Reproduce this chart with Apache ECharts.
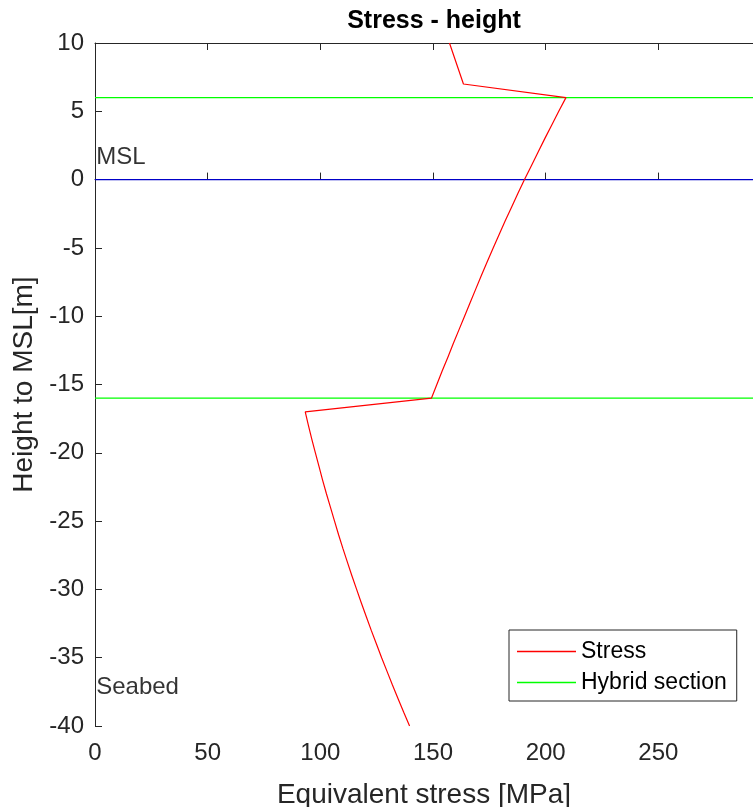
<!DOCTYPE html>
<html>
<head>
<meta charset="utf-8">
<script src="https://cdn.jsdelivr.net/npm/echarts@6/dist/echarts.min.js"></script>
<style>html,body{margin:0;padding:0;background:#fff;overflow:hidden;}#chart{width:753px;height:807px;}</style>
</head>
<body>
<div id="chart"></div>
<script>
// Stress profile: heights [m] and equivalent stress [MPa]
var stressHeights = [10, 7, 6, 5, 4, 3, 2, 1, 0, -1, -2, -3, -4, -5, -6, -7, -8, -9, -10, -11, -12, -13, -14, -15, -16,
  -17, -18, -19, -20, -21, -22, -23, -24, -25, -26, -27, -28, -29, -30, -31, -32, -33, -34, -35, -36, -37, -38, -39, -40];
var stressValues = [157.3, 163.5, 209.0, 205.8, 202.7, 199.6, 196.6, 193.6, 190.6, 187.7, 184.9, 182.1, 179.4, 176.7, 174.1, 171.5, 169.0, 166.5, 164.0, 161.5, 159.0, 156.6, 154.1, 151.7, 149.3,
  93.3, 94.7, 96.2, 97.8, 99.4, 101.0, 102.7, 104.5, 106.3, 108.1, 110.0, 112.0, 114.0, 116.1, 118.2, 120.4, 122.6, 124.9, 127.2, 129.6, 132.0, 134.5, 137.0, 139.6];
// Hybrid section boundaries [m]
var hybridLevels = [6, -16];
// Mean sea level [m]
var mslLevel = 0;
// Axis ranges and ticks
var xMin = 0, xMax = 292, xStep = 50;
var yMin = -40, yMax = 10, yStep = 5;
// Annotations: [x, y, text]
var annotations = [[0.3, 1.65, 'MSL'], [0.3, -37.2, 'Seabed']];

var stressData = stressHeights.map(function (h, i) { return [stressValues[i], h]; });
var FONT = '"Liberation Sans", Arial, Helvetica, sans-serif';
var AX = '#262626';

var series = [
  { name: 'Stress', type: 'line', data: stressData, symbol: 'none',
    lineStyle: { color: '#ff0000', width: 1.2 }, itemStyle: { color: '#ff0000' }, z: 5 }
];
hybridLevels.forEach(function (lv) {
  series.push({ name: 'Hybrid section', type: 'line', data: [[xMin, lv], [xMax, lv]], symbol: 'none',
    lineStyle: { color: '#00ff00', width: 1.3 }, itemStyle: { color: '#00ff00' }, z: 3 });
});
series.push({ name: 'MSL', type: 'line', data: [[xMin, mslLevel], [xMax, mslLevel]], symbol: 'none',
  lineStyle: { color: '#0000c8', width: 1.2 }, itemStyle: { color: '#0000c8' }, z: 3 });
series.push({ name: 'notes', type: 'scatter', data: annotations, symbolSize: 1,
  itemStyle: { color: 'rgba(0,0,0,0)' },
  label: { show: true, position: 'right', distance: 0, fontFamily: FONT, fontSize: 24, color: '#000000',
    formatter: function (p) { return p.data[2]; } },
  emphasis: { disabled: true }, z: 6 });

var chart = echarts.init(document.getElementById('chart'), null, { renderer: 'canvas', width: 753, height: 807 });
chart.setOption({
  backgroundColor: '#fff', animation: false,
  title: { text: 'Stress - height', left: 429, top: 4, textAlign: 'center',
    textStyle: { fontFamily: FONT, fontSize: 25, fontWeight: 'bold', color: '#000' } },
  legend: { data: ['Stress', 'Hybrid section'], orient: 'vertical', left: 509, top: 630,
    backgroundColor: '#fff', borderColor: AX, borderWidth: 1,
    padding: [10, 10, 7, 8], itemGap: 8, itemWidth: 59, itemHeight: 1.5, icon: 'rect',
    textStyle: { fontFamily: FONT, fontSize: 23, color: '#000' } },
  grid: { left: 95, top: 43, width: 658, height: 683, containLabel: false, outerBoundsMode: 'none' },
  xAxis: [
    { type: 'value', position: 'bottom', min: xMin, max: xMax, interval: xStep,
      name: 'Equivalent stress [MPa]', nameLocation: 'middle', nameGap: 55,
      nameTextStyle: { fontFamily: FONT, fontSize: 28, color: AX },
      axisLine: { show: true, lineStyle: { color: AX, width: 1 } },
      axisTick: { show: true, inside: true, length: 7, lineStyle: { color: AX } },
      axisLabel: { fontFamily: FONT, fontSize: 24, color: AX, margin: 15, showMaxLabel: false },
      splitLine: { show: false } },
    { type: 'value', position: 'top', min: xMin, max: xMax, interval: xStep,
      axisLine: { show: true, lineStyle: { color: AX, width: 1 } },
      axisTick: { show: true, inside: true, length: 7, lineStyle: { color: AX } },
      axisLabel: { show: false }, splitLine: { show: false } }
  ],
  yAxis: [
    { type: 'value', min: yMin, max: yMax, interval: yStep,
      name: 'Height to MSL[m]', nameLocation: 'middle', nameGap: 53, nameRotate: 90,
      nameTextStyle: { fontFamily: FONT, fontSize: 28, color: AX },
      axisLine: { show: true, lineStyle: { color: AX, width: 1 } },
      axisTick: { show: true, inside: true, length: 7, lineStyle: { color: AX } },
      axisLabel: { fontFamily: FONT, fontSize: 24, color: AX, margin: 11 },
      splitLine: { show: false } }
  ],
  series: series
});
</script>
</body>
</html>
